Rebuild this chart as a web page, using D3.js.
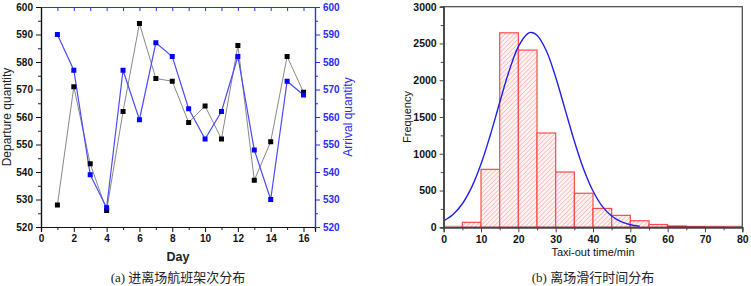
<!DOCTYPE html>
<html>
<head>
<meta charset="utf-8">
<script src="https://cdn.jsdelivr.net/npm/d3@7"></script>
<style>
  body { margin: 0; background: #fff; }
  svg { display: block; }
  .tk text { font-family: "Liberation Sans", Arial, sans-serif; }
</style>
</head>
<body>
<div id="chart"></div>
<script>
// (a) flights per day
const days = [1, 2, 3, 4, 5, 6, 7, 8, 9, 10, 11, 12, 13, 14, 15, 16];
const departures = [528, 571, 543, 526, 562, 594, 574, 573, 558, 564, 552, 586, 537, 551, 582, 569];
const arrivals = [590, 577, 539, 527, 577, 559, 587, 582, 563, 552, 562, 582, 548, 530, 573, 568];

// (b) taxi-out time histogram, 5 min bins
const binStarts = [5, 10, 15, 20, 25, 30, 35, 40, 45, 50, 55, 60, 65, 70, 75];
const binCounts = [68, 788, 2645, 2410, 1282, 752, 463, 257, 162, 89, 38, 15, 8, 5, 3];
// fitted normal curve
const fitX = [0, 2.5, 5, 7.5, 10, 12.5, 15, 17.5, 20, 22.5, 23.5, 25, 27.5, 30, 32.5, 35, 37.5, 40, 42.5, 45, 47.5, 50, 52.5];
const fitY = [88, 174, 320, 546, 860, 1256, 1697, 2122, 2457, 2634, 2650, 2613, 2401, 2041, 1607, 1172, 790, 494, 285, 153, 76, 35, 15];

const W = 751, H = 286;
const blue = "#2b2bff", dark = "#222";
const sans = '"Liberation Sans", Arial, sans-serif';
const capFont = '"Liberation Serif", "Noto Sans CJK SC", serif';

const svg = d3.select("#chart").append("svg")
    .attr("width", W).attr("height", H)
    .attr("viewBox", `0 0 ${W} ${H}`);

const defs = svg.append("defs");
const pat = defs.append("pattern")
    .attr("id", "hatch")
    .attr("patternUnits", "userSpaceOnUse")
    .attr("width", 3.2).attr("height", 3.2)
    .attr("patternTransform", "rotate(45)");
pat.append("rect").attr("width", 3.2).attr("height", 3.2).attr("fill", "#fff4f4");
pat.append("line").attr("x1", 0).attr("y1", 0).attr("x2", 0).attr("y2", 3.2)
    .attr("stroke", "#ffaaaa").attr("stroke-width", 1.3);

function styleAxis(g, color, size) {
    g.attr("class", "tk");
    g.select(".domain").attr("stroke", color).attr("stroke-width", 1.2);
    g.selectAll(".tick line").attr("stroke", color).attr("stroke-width", 1);
    g.selectAll(".tick text").attr("fill", color)
        .style("font-size", size + "px")
        .style("font-weight", "bold");
}

// ---------- (a) ----------
const xa = d3.scaleLinear().domain([0, 16.7]).range([41, 315]);
const ya = d3.scaleLinear().domain([520, 600]).range([227, 7]);

// minor ticks first
svg.append("g").attr("transform", "translate(0,227)")
    .call(d3.axisBottom(xa).tickValues(d3.range(1, 17, 2)).tickSize(3).tickFormat(""))
    .call(g => styleAxis(g, dark, 10));
svg.append("g").attr("transform", "translate(41,0)")
    .call(d3.axisLeft(ya).tickValues(d3.range(525, 600, 10)).tickSize(3).tickFormat(""))
    .call(g => styleAxis(g, dark, 10));
svg.append("g").attr("transform", "translate(315,0)")
    .call(d3.axisRight(ya).tickValues(d3.range(525, 600, 10)).tickSize(3).tickFormat(""))
    .call(g => styleAxis(g, blue, 10));

svg.append("g").attr("transform", "translate(0,227)")
    .call(d3.axisBottom(xa).tickValues(d3.range(0, 17, 2)).tickSize(5).tickPadding(3))
    .call(g => styleAxis(g, "#111", 10));
svg.append("g").attr("transform", "translate(41,0)")
    .call(d3.axisLeft(ya).ticks(8).tickSize(5).tickPadding(3))
    .call(g => styleAxis(g, "#111", 10));
svg.append("g").attr("transform", "translate(315,0)")
    .call(d3.axisRight(ya).ticks(8).tickSize(5).tickPadding(3))
    .call(g => styleAxis(g, blue, 10));
// top border with inward ticks
svg.append("g").attr("transform", "translate(0,7)")
    .call(d3.axisBottom(xa).tickValues(d3.range(1, 17)).tickSizeInner(4).tickSizeOuter(0).tickFormat(""))
    .call(g => styleAxis(g, blue, 10));

const lineA = d3.line().x((d, i) => xa(days[i])).y(d => ya(d));
svg.append("path").datum(departures).attr("d", lineA)
    .attr("fill", "none").attr("stroke", "#888").attr("stroke-width", 1);
svg.append("path").datum(arrivals).attr("d", lineA)
    .attr("fill", "none").attr("stroke", "#4a4aff").attr("stroke-width", 1.2);

const ms = 5;
svg.append("g").selectAll("rect").data(departures).join("rect")
    .attr("x", (d, i) => xa(days[i]) - ms / 2).attr("y", d => ya(d) - ms / 2)
    .attr("width", ms).attr("height", ms).attr("fill", "#000");
svg.append("g").selectAll("rect").data(arrivals).join("rect")
    .attr("x", (d, i) => xa(days[i]) - ms / 2).attr("y", d => ya(d) - ms / 2)
    .attr("width", ms).attr("height", ms).attr("fill", "#0000ff");

svg.append("text").attr("x", 178).attr("y", 261).attr("text-anchor", "middle")
    .style("font-family", sans).style("font-size", "12.5px").style("font-weight", "bold")
    .attr("fill", dark).text("Day");
svg.append("text").attr("transform", "translate(11,117) rotate(-90)").attr("text-anchor", "middle")
    .style("font-family", sans).style("font-size", "12px")
    .attr("fill", dark).text("Departure quantity");
svg.append("text").attr("transform", "translate(352,117) rotate(-90)").attr("text-anchor", "middle")
    .style("font-family", sans).style("font-size", "12px")
    .attr("fill", blue).text("Arrival quantity");
svg.append("text").attr("x", 178).attr("y", 282).attr("text-anchor", "middle")
    .style("font-family", capFont).style("font-size", "13px")
    .attr("fill", "#222").text("(a) 进离场航班架次分布");

// ---------- (b) ----------
const xb = d3.scaleLinear().domain([0, 80]).range([443.7, 742.3]);
const yb = d3.scaleLinear().domain([0, 3000]).range([227.3, 6.7]);
const grey = "#444";

// baseline
svg.append("line").attr("x1", xb(0)).attr("x2", xb(80)).attr("y1", yb(0) - 1).attr("y2", yb(0) - 1)
    .attr("stroke", "#ffbbbb").attr("stroke-width", 1.5);

svg.append("g").selectAll("rect").data(binCounts).join("rect")
    .attr("x", (d, i) => xb(binStarts[i]))
    .attr("y", d => yb(d))
    .attr("width", (d, i) => xb(binStarts[i] + 5) - xb(binStarts[i]))
    .attr("height", d => yb(0) - yb(d))
    .attr("fill", "url(#hatch)")
    .attr("stroke", (d, i) => binStarts[i] >= 60 ? "#c03030" : "#ff4a4a")
    .attr("stroke-width", 1.2);

const lineB = d3.line().x((d, i) => xb(fitX[i])).y(d => yb(d)).curve(d3.curveCatmullRom);
svg.append("path").datum(fitY).attr("d", lineB)
    .attr("fill", "none").attr("stroke", "#2020ee").attr("stroke-width", 1.4);

// frame
svg.append("rect").attr("x", xb(0)).attr("y", yb(3000))
    .attr("width", xb(80) - xb(0)).attr("height", yb(0) - yb(3000))
    .attr("fill", "none").attr("stroke", grey).attr("stroke-width", 1.2);

svg.append("g").attr("transform", `translate(0,${yb(0)})`)
    .call(d3.axisBottom(xb).tickValues(d3.range(5, 80, 10)).tickSize(3).tickFormat(""))
    .call(g => styleAxis(g, grey, 10.5));
svg.append("g").attr("transform", `translate(${xb(0)},0)`)
    .call(d3.axisLeft(yb).tickValues(d3.range(250, 3000, 500)).tickSize(3).tickFormat(""))
    .call(g => styleAxis(g, grey, 10.5));
svg.append("g").attr("transform", `translate(0,${yb(0)})`)
    .call(d3.axisBottom(xb).tickValues(d3.range(0, 81, 10)).tickSize(5).tickPadding(3).tickFormat(d3.format("d")))
    .call(g => styleAxis(g, grey, 10.5))
    .call(g => g.selectAll(".tick text").attr("fill", "#111"));
svg.append("g").attr("transform", `translate(${xb(0)},0)`)
    .call(d3.axisLeft(yb).tickValues(d3.range(0, 3001, 500)).tickSize(4).tickPadding(3).tickFormat(d3.format("d")))
    .call(g => styleAxis(g, grey, 10.5))
    .call(g => g.selectAll(".tick text").attr("fill", "#111"));

svg.append("text").attr("x", 593).attr("y", 256).attr("text-anchor", "middle")
    .style("font-family", sans).style("font-size", "11px")
    .attr("fill", "#111").text("Taxi-out time/min");
svg.append("text").attr("transform", "translate(411,117) rotate(-90)").attr("text-anchor", "middle")
    .style("font-family", sans).style("font-size", "11px")
    .attr("fill", "#111").text("Frequency");
svg.append("text").attr("x", 593).attr("y", 282).attr("text-anchor", "middle")
    .style("font-family", capFont).style("font-size", "13px")
    .attr("fill", "#222").text("(b) 离场滑行时间分布");
</script>
</body>
</html>
